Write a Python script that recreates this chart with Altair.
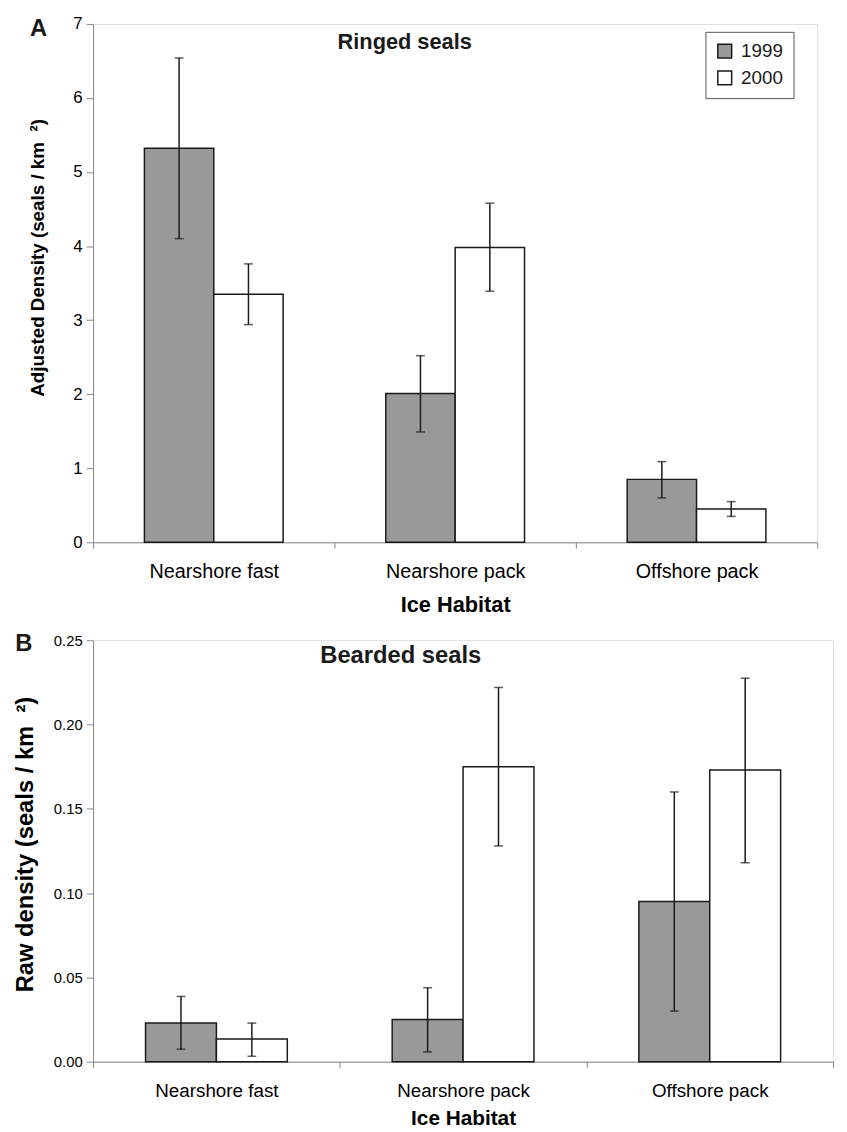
import altair as alt
import pandas as pd

# ---------------- data ----------------
habitats = ["Nearshore fast", "Nearshore pack", "Offshore pack"]
years = ["1999", "2000"]

# Panel A: ringed seals, adjusted density (seals / km2)
ringed_1999 = [5.32, 2.01, 0.85]
ringed_1999_lo = [4.10, 1.49, 0.60]
ringed_1999_hi = [6.54, 2.52, 1.09]
ringed_2000 = [3.35, 3.98, 0.45]
ringed_2000_lo = [2.94, 3.39, 0.35]
ringed_2000_hi = [3.76, 4.58, 0.55]
ringed_ticks = [0, 1, 2, 3, 4, 5, 6, 7]

# Panel B: bearded seals, raw density (seals / km2)
bearded_1999 = [0.023, 0.025, 0.095]
bearded_1999_lo = [0.0074, 0.0058, 0.030]
bearded_1999_hi = [0.0387, 0.0439, 0.160]
bearded_2000 = [0.0134, 0.175, 0.173]
bearded_2000_lo = [0.0032, 0.128, 0.118]
bearded_2000_hi = [0.0229, 0.222, 0.2275]
bearded_ticks = [0.00, 0.05, 0.10, 0.15, 0.20, 0.25]

year_fills = ["#999999", "#ffffff"]

FONT = "Liberation Sans"
INK = "#1a1a1a"


def make_df(v99, lo99, hi99, v00, lo00, hi00):
    rows = []
    for i, h in enumerate(habitats):
        rows.append({"habitat": h, "year": "1999", "value": v99[i], "lo": lo99[i], "hi": hi99[i]})
        rows.append({"habitat": h, "year": "2000", "value": v00[i], "lo": lo00[i], "hi": hi00[i]})
    return pd.DataFrame(rows)


def panel(df, w, h, ticks, fmt, ytitle, ylab_fs, ytitle_fs, ytitle_x, ytitle_y,
          xlab_fs, xtitle_fs, xtitle_pad, letter, letter_x, letter_y,
          heading, heading_fs, heading_x, heading_y, legend):
    xenc = alt.X(
        "habitat:N", sort=habitats,
        scale=alt.Scale(paddingInner=0, paddingOuter=0),
        axis=alt.Axis(title="Ice Habitat", labelAngle=0, tickBand="extent", tickSize=6,
                      grid=False, labelPadding=14, labelFontSize=xlab_fs,
                      titleFontSize=xtitle_fs, titleFontWeight="bold",
                      titlePadding=xtitle_pad),
    )
    xoff = alt.XOffset("year:N", sort=years,
                       scale=alt.Scale(paddingInner=0, paddingOuter=0.74))
    yscale = alt.Scale(domain=[ticks[0], ticks[-1]], nice=False, zero=True)
    yaxis = alt.Axis(values=ticks, format=fmt, title=ytitle, tickSize=7, labelPadding=4,
                     grid=False, labelFontSize=ylab_fs, titleFontSize=ytitle_fs,
                     titleFontWeight="bold", titleX=ytitle_x, titleY=ytitle_y,
                     titleAngle=270, titleBaseline="middle", titleAlign="center")
    base = alt.Chart(df).encode(x=xenc, xOffset=xoff)
    bars = base.mark_bar(stroke=INK, strokeWidth=1.5).encode(
        y=alt.Y("value:Q", scale=yscale, axis=yaxis),
        fill=alt.Fill("year:N", sort=years,
                      scale=alt.Scale(domain=years, range=year_fills), legend=legend),
    )
    err = base.mark_rule(color=INK, strokeWidth=1.5).encode(
        y=alt.Y("lo:Q", scale=yscale, axis=yaxis), y2="hi:Q")
    cap_lo = base.mark_tick(color=INK, thickness=1.5, size=9).encode(
        y=alt.Y("lo:Q", scale=yscale, axis=yaxis))
    cap_hi = base.mark_tick(color=INK, thickness=1.5, size=9).encode(
        y=alt.Y("hi:Q", scale=yscale, axis=yaxis))
    head = alt.Chart(pd.DataFrame({"t": [heading]})).mark_text(
        font=FONT, fontWeight="bold", fontSize=heading_fs, color=INK,
        align="center", baseline="middle",
    ).encode(text="t:N", x=alt.value(heading_x), y=alt.value(heading_y))
    let = alt.Chart(pd.DataFrame({"t": [letter]})).mark_text(
        font=FONT, fontWeight="bold", fontSize=24, color=INK,
        align="center", baseline="middle",
    ).encode(text="t:N", x=alt.value(letter_x), y=alt.value(letter_y))
    return alt.layer(bars, err, cap_lo, cap_hi, head, let).properties(width=w, height=h)


ringed_df = make_df(ringed_1999, ringed_1999_lo, ringed_1999_hi,
                    ringed_2000, ringed_2000_lo, ringed_2000_hi)
bearded_df = make_df(bearded_1999, bearded_1999_lo, bearded_1999_hi,
                     bearded_2000, bearded_2000_lo, bearded_2000_hi)

legend_a = alt.Legend(
    orient="none", legendX=619, legendY=8, title=None, direction="vertical",
    symbolType="square", symbolSize=196, symbolStrokeColor=INK, symbolStrokeWidth=1.5,
    labelFontSize=19, labelFont=FONT, labelColor=INK, labelOffset=7,
    strokeColor="#555555", fillColor="white", padding=10, rowPadding=6,
)

top = panel(ringed_df, 732, 524, ringed_ticks, "d",
            "Adjusted Density (seals / km\u00a0\u00a0²)", 17, 19, -56, 236,
            20, 22, 13, "A", -55, 5, "Ringed seals", 22, 315, 18, legend_a)

bottom = panel(bearded_df, 748, 426, bearded_ticks, ".2f",
               "Raw density (seals / km\u00a0\u00a0²)", 15, 24, -68, 206,
               19, 21, 7, "B", -70, 4, "Bearded seals", 24, 311, 16, None)

chart = alt.vconcat(top, bottom, spacing=15).resolve_scale(
    x="independent", y="independent", fill="independent", xOffset="independent"
).properties(
    padding={"left": 5, "top": 0, "right": 5, "bottom": 0}
).configure_view(stroke="transparent", strokeOpacity=0).configure_axis(
    grid=False, domainColor=INK, tickColor=INK,
    labelColor=INK, titleColor=INK,
    domainWidth=1.5, tickWidth=1.5, labelFont=FONT, titleFont=FONT,
).configure(background="white")

chart.save("out.html", embed_options={"renderer": "svg", "actions": False})
